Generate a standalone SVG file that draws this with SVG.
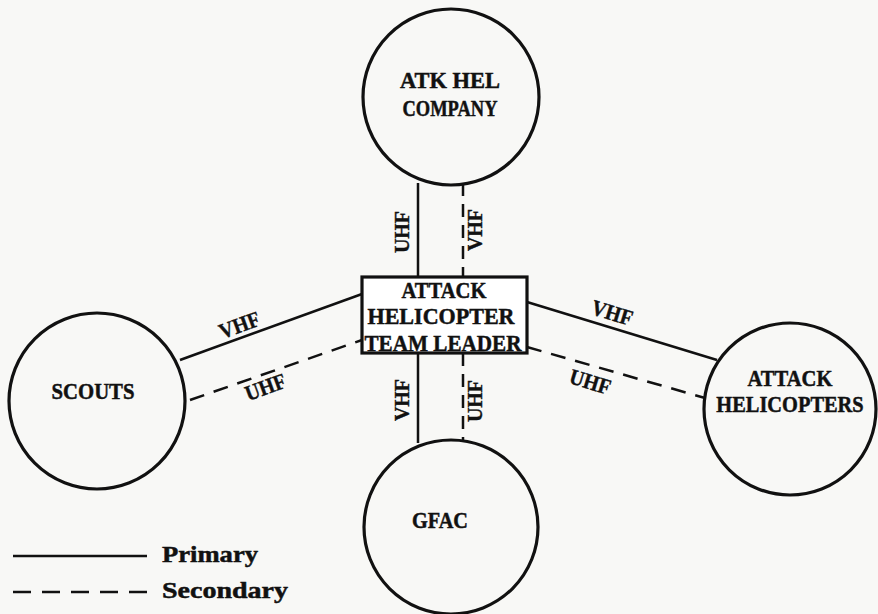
<svg xmlns="http://www.w3.org/2000/svg" width="878" height="614" viewBox="0 0 878 614">
<style>
.node{fill:none;stroke:#111;stroke-width:3.2}
.t{font-family:"Liberation Serif",serif;font-weight:bold;font-size:24px;fill:#111;stroke:#111;stroke-width:0.5;text-anchor:middle}
.l{font-family:"Liberation Serif",serif;font-weight:bold;font-size:22px;fill:#111;stroke:#111;stroke-width:0.4;text-anchor:middle}
.solid{stroke:#111;stroke-width:2.5;fill:none}
.dash{stroke:#111;stroke-width:2.5;fill:none;stroke-dasharray:13 8}
</style>
<rect width="878" height="614" fill="#f8f8f6"/>
<g id="connectors">
<line class="solid" x1="418" y1="183" x2="418" y2="277"/>
<line class="dash" x1="463" y1="183" x2="463" y2="277"/>
<line class="solid" x1="418" y1="353" x2="418" y2="443"/>
<line class="dash" x1="463" y1="353" x2="463" y2="441"/>
<line class="solid" x1="180" y1="360" x2="362" y2="294"/>
<line class="dash" x1="190" y1="400" x2="362" y2="340" style="stroke-dasharray:15 10"/>
<line class="solid" x1="527" y1="302" x2="717" y2="360"/>
<line class="dash" x1="527" y1="347" x2="705" y2="398" style="stroke-dasharray:15 10"/>
<text class="l" transform="translate(409,232) rotate(-90)" textLength="42" lengthAdjust="spacingAndGlyphs">UHF</text>
<text class="l" transform="translate(482,230) rotate(-90)" textLength="42" lengthAdjust="spacingAndGlyphs">VHF</text>
<text class="l" transform="translate(409,400) rotate(-90)" textLength="42" lengthAdjust="spacingAndGlyphs">VHF</text>
<text class="l" transform="translate(482,401) rotate(-90)" textLength="42" lengthAdjust="spacingAndGlyphs">UHF</text>
<text class="l" transform="translate(242,332) rotate(-20)" textLength="42" lengthAdjust="spacingAndGlyphs">VHF</text>
<text class="l" transform="translate(268,394) rotate(-20)" textLength="42" lengthAdjust="spacingAndGlyphs">UHF</text>
<text class="l" transform="translate(610,320) rotate(17)" textLength="42" lengthAdjust="spacingAndGlyphs">VHF</text>
<text class="l" transform="translate(588,389) rotate(17)" textLength="42" lengthAdjust="spacingAndGlyphs">UHF</text>
</g>
<g id="atk-hel-company">
<circle class="node" cx="451" cy="97" r="88" fill="#fff"/>
<text class="t" x="450" y="88" textLength="100" lengthAdjust="spacingAndGlyphs">ATK HEL</text>
<text class="t" x="450" y="116" textLength="95" lengthAdjust="spacingAndGlyphs">COMPANY</text>
</g>
<g id="team-leader">
<rect class="node" x="362" y="277" width="165" height="76" style="fill:#fff"/>
<text class="t" x="444" y="298" textLength="85" lengthAdjust="spacingAndGlyphs">ATTACK</text>
<text class="t" x="441" y="324" textLength="147" lengthAdjust="spacingAndGlyphs">HELICOPTER</text>
<text class="t" x="443" y="351" textLength="157" lengthAdjust="spacingAndGlyphs">TEAM LEADER</text>
</g>
<g id="scouts">
<circle class="node" cx="97" cy="401" r="88"/>
<text class="t" x="93" y="399" textLength="83" lengthAdjust="spacingAndGlyphs">SCOUTS</text>
</g>
<g id="attack-helicopters">
<circle class="node" cx="790" cy="409" r="86"/>
<text class="t" x="790" y="386" textLength="85" lengthAdjust="spacingAndGlyphs">ATTACK</text>
<text class="t" transform="translate(790,412) scale(0.85,1)">HELICOPTERS</text>
</g>
<g id="gfac">
<circle class="node" cx="451" cy="527" r="87"/>
<text class="t" x="440" y="528" textLength="56" lengthAdjust="spacingAndGlyphs">GFAC</text>
</g>
<g id="legend">
<line class="solid" x1="13" y1="556" x2="147" y2="556"/>
<line class="solid" x1="13" y1="592" x2="147" y2="592" style="stroke-dasharray:18 11"/>
<text class="t" x="162" y="562" style="text-anchor:start" textLength="96" lengthAdjust="spacingAndGlyphs">Primary</text>
<text class="t" x="162" y="598" style="text-anchor:start" textLength="126" lengthAdjust="spacingAndGlyphs">Secondary</text>
</g>
</svg>
